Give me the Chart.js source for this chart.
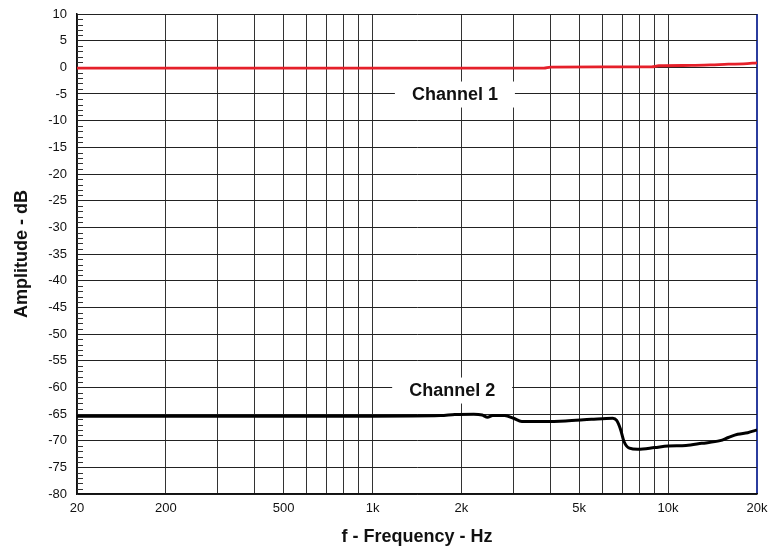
<!DOCTYPE html>
<html>
<head>
<meta charset="utf-8">
<script src="https://cdn.jsdelivr.net/npm/chart.js@4/dist/chart.umd.min.js"></script>
<style>
  html, body { margin: 0; padding: 0; background: #fff; }
  canvas { display: block; }
</style>
</head>
<body>
<canvas id="respChart" width="768" height="549"></canvas>
<script>
// Frequency response data
const freq1 = [100, 1000, 3800, 4000, 8800, 9300, 12000, 14000, 16000, 18000, 20000];
const channel1 = [-0.15, -0.15, -0.15, 0.05, 0.1, 0.3, 0.35, 0.45, 0.6, 0.65, 0.85];

const freq2 = [100, 1000, 1700, 1900, 2200, 2350, 2450, 2550, 2800, 3000, 3200, 3800, 4500, 5500, 6500, 6700, 6900, 7100, 7400, 7900, 9000, 10000, 11500, 13000, 15000, 16000, 17200, 18600, 20000];
const channel2 = [-65.4, -65.4, -65.3, -65.1, -65.05, -65.2, -65.6, -65.3, -65.3, -65.8, -66.4, -66.4, -66.3, -66.0, -65.8, -66.2, -67.8, -70.2, -71.4, -71.6, -71.3, -71.0, -70.9, -70.5, -70.0, -69.4, -68.8, -68.5, -68.0];

// Axis ticks
const gridFreqs = [100, 200, 300, 400, 500, 600, 700, 800, 900, 1000, 2000, 3000, 4000, 5000, 6000, 7000, 8000, 9000, 10000, 20000];
const tickFreqs = [100, 200, 500, 1000, 2000, 5000, 10000, 20000];
const tickLabels = ['20', '200', '500', '1k', '2k', '5k', '10k', '20k'];
const minorDb = [];
for (let v = -80; v <= 10; v++) { if (v % 5 !== 0) minorDb.push(v); }

// Curve labels: text, frequency and dB of label centre
const curveLabels = ['Channel 1', 'Channel 2'];
const labelFreqs = [1900, 1860];
const labelDb = [-5.1, -60.6];

const FONT = '"Liberation Sans", Arial, Helvetica, sans-serif';

// Little inner ticks on the left axis, every 1 dB
const minorTicks = {
    id: 'minorTicks',
    beforeDatasetsDraw(chart) {
        const { ctx, scales: { x, y } } = chart;
        ctx.save();
        ctx.strokeStyle = '#333';
        ctx.lineWidth = 1;
        minorDb.forEach(v => {
            const py = Math.round(y.getPixelForValue(v)) + 0.5;
            ctx.beginPath();
            ctx.moveTo(x.left, py);
            ctx.lineTo(x.left + 6, py);
            ctx.stroke();
        });
        ctx.restore();
    }
};

// "Channel 1" / "Channel 2" boxed labels
const channelLabels = {
    id: 'channelLabels',
    beforeDatasetsDraw(chart) {
        const { ctx, scales: { x, y } } = chart;
        ctx.save();
        ctx.font = 'bold 18px ' + FONT;
        ctx.textAlign = 'center';
        ctx.textBaseline = 'middle';
        curveLabels.forEach((txt, i) => {
            const cx = x.getPixelForValue(labelFreqs[i]);
            const cy = y.getPixelForValue(labelDb[i]);
            const w = ctx.measureText(txt).width + 34;
            ctx.fillStyle = '#fff';
            ctx.fillRect(cx - w / 2, cy - 13, w, 26);
            ctx.fillStyle = '#111';
            ctx.fillText(txt, cx, cy);
        });
        ctx.restore();
    }
};

const ctxResp = document.getElementById('respChart').getContext('2d');
const respChart = new Chart(ctxResp, {
    type: 'line',
    data: {
        datasets: [
            {
                label: 'Channel 1',
                data: freq1.map((f, i) => ({ x: f, y: channel1[i] })),
                borderColor: '#e5202a',
                borderWidth: 2.8,
                pointRadius: 0,
                cubicInterpolationMode: 'monotone'
            },
            {
                label: 'Channel 2',
                data: freq2.map((f, i) => ({ x: f, y: channel2[i] })),
                borderColor: '#000',
                borderWidth: 3,
                pointRadius: 0,
                cubicInterpolationMode: 'monotone'
            }
        ]
    },
    options: {
        responsive: false,
        animation: false,
        devicePixelRatio: 1,
        layout: { padding: { top: 14, right: 11, left: 0, bottom: 0 } },
        plugins: {
            legend: { display: false },
            tooltip: { enabled: false }
        },
        scales: {
            x: {
                type: 'logarithmic',
                min: 100,
                max: 20000,
                afterBuildTicks: s => { s.ticks = gridFreqs.map(v => ({ value: v })); },
                afterFit: s => {
                    s.height = 55;
                    s.paddingLeft = 0;
                    s.paddingRight = 0;
                },
                ticks: {
                    autoSkip: false,
                    maxRotation: 0,
                    padding: 7,
                    color: '#111',
                    font: { family: FONT, size: 13 },
                    callback: value => {
                        const i = tickFreqs.indexOf(value);
                        return i >= 0 ? tickLabels[i] : '';
                    }
                },
                grid: {
                    drawTicks: false,
                    color: c => (c.tick && c.tick.value === 20000) ? '#2b3c9e' : '#333',
                    lineWidth: c => (c.tick && c.tick.value === 20000) ? 2 : 1
                },
                border: { color: '#111', width: 1.5 },
                title: {
                    display: true,
                    text: 'f - Frequency - Hz',
                    color: '#111',
                    font: { family: FONT, size: 18, weight: 'bold' },
                    padding: { top: 0, bottom: 1 }
                }
            },
            y: {
                min: -80,
                max: 10,
                afterFit: s => {
                    s.width = 77;
                    s.paddingTop = 0;
                    s.paddingBottom = 0;
                },
                ticks: {
                    stepSize: 5,
                    padding: 10,
                    color: '#111',
                    font: { family: FONT, size: 13 }
                },
                grid: { drawTicks: false, color: '#222', lineWidth: 1 },
                border: { color: '#111', width: 1.5 },
                title: {
                    display: true,
                    text: 'Amplitude - dB',
                    color: '#111',
                    font: { family: FONT, size: 18, weight: 'bold' },
                    padding: { top: 11, bottom: 0 }
                }
            }
        }
    },
    plugins: [minorTicks, channelLabels]
});
</script>
</body>
</html>
